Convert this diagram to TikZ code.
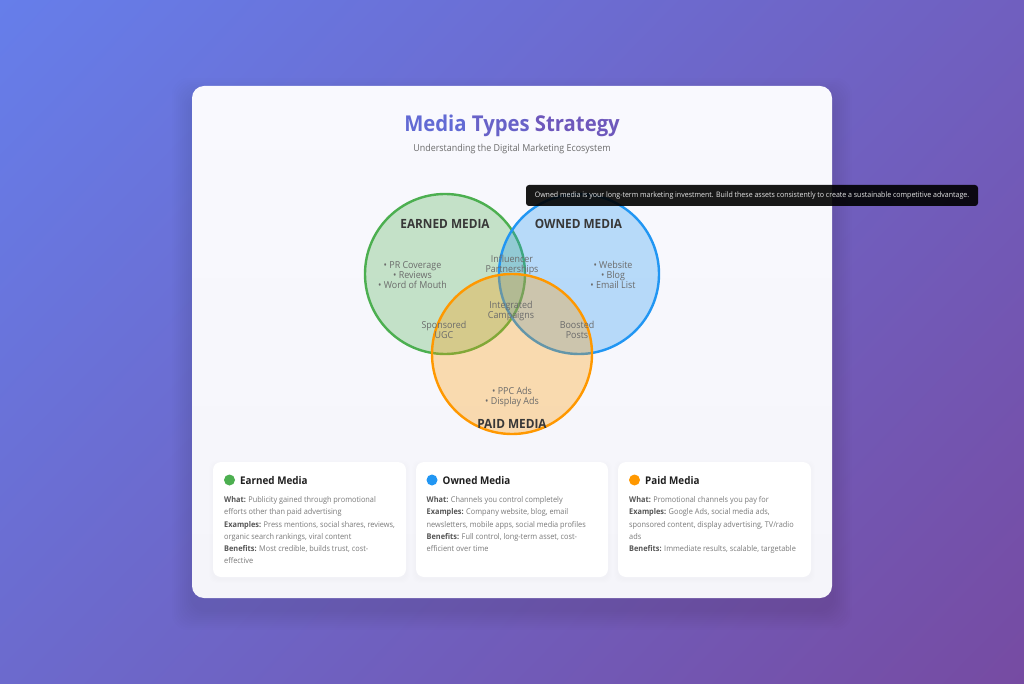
\documentclass[tikz,border=0pt]{standalone}
\usepackage{fontspec}
\setmainfont[FakeStretch=.93]{Open Sans}
\usetikzlibrary{positioning,shadings}
\definecolor{bgTL}{RGB}{102,126,234}
\definecolor{bgTR}{RGB}{112,95,191}
\definecolor{bgBL}{RGB}{108,106,205}
\definecolor{bgBR}{RGB}{118,75,162}
\definecolor{panelTop}{RGB}{249,249,254}
\definecolor{panelBot}{RGB}{245,245,250}
\definecolor{earnedCol}{HTML}{4CAF50}
\definecolor{ownedCol}{HTML}{2196F3}
\definecolor{paidCol}{HTML}{FF9800}
\definecolor{bodyCol}{HTML}{7A7A7A}
\definecolor{boldCol}{HTML}{555555}
\tikzset{
  venn/.style={line width=2.4pt,draw=#1,fill=#1,fill opacity=.3},
  vennhead/.style={font=\fontsize{12.7}{14}\selectfont\bfseries,text=black!78},
  venntext/.style={font=\fontsize{9.6}{10}\selectfont,text=black!58,align=center,inner sep=0pt},
  cardbox/.style={fill=white,rounded corners=8pt},
  cardhead/.style={font=\fontsize{10.6}{12}\selectfont\bfseries,text=black!88,anchor=west,inner sep=0pt},
  cardtext/.style={font=\fontsize{7.9}{12.3}\selectfont,text=bodyCol,anchor=north west,align=left,inner sep=0pt},
}
\newcommand{\lab}[1]{\textbf{\textcolor{boldCol}{#1}}}
\begin{document}
\begin{tikzpicture}[x=1pt,y=-1pt]
\useasboundingbox (0,0) rectangle (1024,684);
\shade[upper left=bgTL,upper right=bgTR,lower left=bgBL,lower right=bgBR] (0,0) rectangle (1024,684);
% panel
\foreach \i in {1,...,10}
  \fill[black,opacity=.006,rounded corners=16pt] (192-2*\i,86+12-2*\i) rectangle (832+2*\i,598+12+2*\i);
\shade[top color=panelTop,bottom color=panelBot,rounded corners=12pt] (192,86) rectangle (832,598);
\node[font=\fontsize{21.8}{26}\selectfont\bfseries] (title) at (512,125.5)
  {\textcolor[RGB]{98,106,212}{Media} \textcolor[RGB]{104,98,200}{Types} \textcolor[RGB]{110,88,188}{Strategy}};
\node[font=\fontsize{9.6}{12}\selectfont,text=black!58] (subtitle) at (512,149) {Understanding the Digital Marketing Ecosystem};
% circles
\draw[venn=earnedCol] (445,274) circle (80);
\draw[venn=ownedCol] (579,274) circle (80);
\draw[venn=paidCol] (512,354) circle (80);
\node[vennhead] (earned) at (445,223.5) {EARNED MEDIA};
\node[vennhead] (owned) at (578.5,223.5) {OWNED MEDIA};
\node[vennhead] (paid) at (512,424) {PAID MEDIA};
\node[venntext] (earnedlist) at (412.5,275) {• PR Coverage\\• Reviews\\• Word of Mouth};
\node[venntext] (ownedlist) at (613,275) {• Website\\• Blog\\• Email List};
\node[venntext] (paidlist) at (512,397.5) {• PPC Ads\\• Display Ads};
\node[venntext] (influencer) at (512,264.5) {Influencer\\Partnerships};
\node[venntext] (integrated) at (511,311) {Integrated\\Campaigns};
\node[venntext] (sponsored) at (444,330) {Sponsored\\UGC};
\node[venntext] (boosted) at (577,330) {Boosted\\Posts};
% tooltip
\node[fill=black,fill opacity=.9,text opacity=1,text=white!90!black,rounded corners=3pt,minimum width=452pt,minimum height=21pt,inner sep=0pt,font=\fontsize{7.55}{9}\selectfont] (tooltip) at (752,195.5)
  {Owned media is your long-term marketing investment. Build these assets consistently to create a sustainable competitive advantage.};
% cards
\foreach \xa/\xb in {213/406,416/608,618/811}{
  \foreach \i in {1,...,4}
    \fill[black,opacity=.005,rounded corners=8pt] (\xa-\i,462+2-\i) rectangle (\xb+\i,577+2+\i);
  \fill[cardbox] (\xa,462) rectangle (\xb,577);
}
\fill[earnedCol] (229.5,480) circle (5.5);
\node[cardhead] (earnedcard) at (240,481) {Earned Media};
\node[cardtext] (earnedbody) at (224,496.2) {\lab{What:} Publicity gained through promotional\\efforts other than paid advertising\\\lab{Examples:} Press mentions, social shares, reviews,\\organic search rankings, viral content\\\lab{Benefits:} Most credible, builds trust, cost-\\effective};
\fill[ownedCol] (432,480) circle (5.5);
\node[cardhead] (ownedcard) at (442.5,481) {Owned Media};
\node[cardtext] (ownedbody) at (426.5,496.2) {\lab{What:} Channels you control completely\\\lab{Examples:} Company website, blog, email\\newsletters, mobile apps, social media profiles\\\lab{Benefits:} Full control, long-term asset, cost-\\efficient over time};
\fill[paidCol] (634.5,480) circle (5.5);
\node[cardhead] (paidcard) at (645,481) {Paid Media};
\node[cardtext] (paidbody) at (629,496.2) {\lab{What:} Promotional channels you pay for\\\lab{Examples:} Google Ads, social media ads,\\sponsored content, display advertising, TV/radio\\ads\\\lab{Benefits:} Immediate results, scalable, targetable};
\end{tikzpicture}
\end{document}
